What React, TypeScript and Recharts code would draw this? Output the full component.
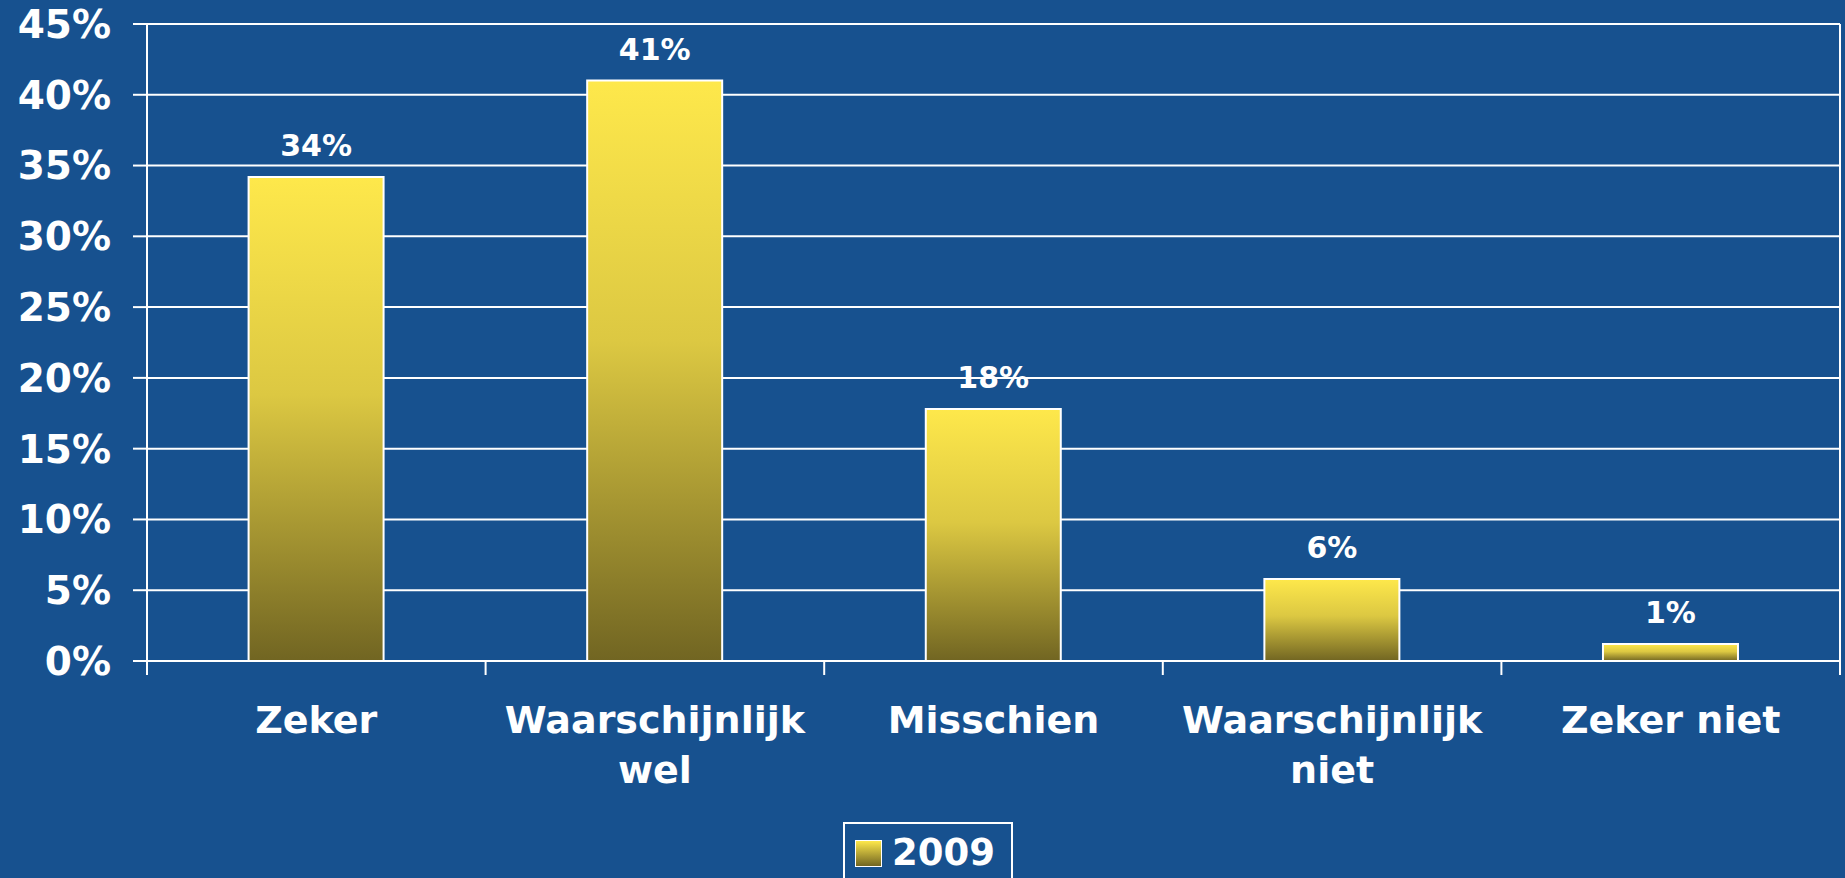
import React from 'react';
import {
  BarChart,
  Bar,
  XAxis,
  YAxis,
  CartesianGrid,
  Legend,
  LabelList,
} from 'recharts';

const categories = ['Zeker', 'Waarschijnlijk wel', 'Misschien', 'Waarschijnlijk niet', 'Zeker niet'];
const values2009 = [34.2, 41, 17.8, 5.8, 1.2];
const yTicks = [0, 5, 10, 15, 20, 25, 30, 35, 40, 45];
const seriesName = '2009';

const data = categories.map((name, i) => ({ name, value: values2009[i] }));

const FONT = '"DejaVu Sans", Verdana, sans-serif';
const BG = '#17518f';
const X_TICK_MARGIN = 45;

// wrap long category names onto two lines, like the original
function wrapLabel(label: string, maxChars = 14): string[] {
  const words = label.split(' ');
  const lines: string[] = [];
  let cur = '';
  words.forEach((w) => {
    const next = cur ? `${cur} ${w}` : w;
    if (next.length > maxChars && cur) {
      lines.push(cur);
      cur = w;
    } else {
      cur = next;
    }
  });
  if (cur) lines.push(cur);
  return lines;
}

// category label plus the small tick marks at the category boundaries
function CategoryTick({ x, y, payload, width, visibleTicksCount, index }: any) {
  const lines = wrapLabel(String(payload.value));
  const half = width / visibleTicksCount / 2;
  const axisY = y - X_TICK_MARGIN;
  const isLast = index === visibleTicksCount - 1;
  return (
    <g>
      <line x1={x - half} x2={x - half} y1={axisY} y2={axisY + 14} stroke="#fff" strokeWidth={2} />
      {isLast && (
        <line x1={x + half} x2={x + half} y1={axisY} y2={axisY + 14} stroke="#fff" strokeWidth={2} />
      )}
      <text x={x} y={y} textAnchor="middle" fill="#fff" fontSize={38} fontWeight="bold" fontFamily={FONT}>
        {lines.map((line, i) => (
          <tspan key={i} x={x} dy={i === 0 ? 27 : 50}>
            {line}
          </tspan>
        ))}
      </text>
    </g>
  );
}

function LegendBox() {
  return (
    <div
      style={{
        border: '2px solid #fff',
        display: 'flex',
        alignItems: 'flex-start',
        padding: '14px 16px 20px 10px',
        height: 70,
        boxSizing: 'border-box',
        fontFamily: FONT,
      }}
    >
      <span
        style={{
          width: 27,
          height: 27,
          boxSizing: 'border-box',
          border: '1px solid #fff',
          background: 'linear-gradient(#fee84b, #716522)',
          marginRight: 10,
          marginTop: 2,
        }}
      />
      <span style={{ color: '#fff', fontSize: 37, fontWeight: 'bold', lineHeight: '30px' }}>
        {seriesName}
      </span>
    </div>
  );
}

export default function App() {
  return (
    <div style={{ width: 1845, height: 878, overflow: 'hidden', background: BG }}>
      <style>{'body{margin:0;}'}</style>
      <BarChart
        width={1845}
        height={878}
        data={data}
        margin={{ top: 24, right: 0, bottom: 0, left: 0 }}
        barCategoryGap="30%"
        style={{ background: BG }}
      >
        <defs>
          <linearGradient id="barGrad" x1="0" y1="0" x2="0" y2="1">
            <stop offset="0%" stopColor="#fee84b" />
            <stop offset="45%" stopColor="#dcc842" />
            <stop offset="100%" stopColor="#716522" />
          </linearGradient>
        </defs>
        <CartesianGrid horizontal vertical={false} stroke="#fff" strokeWidth={2} />
        <XAxis
          dataKey="name"
          height={217}
          interval={0}
          tickSize={0}
          tickMargin={X_TICK_MARGIN}
          tickLine={false}
          axisLine={{ stroke: '#fff', strokeWidth: 2 }}
          tick={<CategoryTick />}
        />
        <YAxis
          domain={[0, 45]}
          ticks={yTicks}
          width={147}
          tickSize={14}
          tickMargin={22}
          tickFormatter={(v: number) => `${v}%`}
          axisLine={{ stroke: '#fff', strokeWidth: 2 }}
          tickLine={{ stroke: '#fff', strokeWidth: 2 }}
          tick={{ fill: '#fff', fontSize: 39, fontWeight: 'bold', fontFamily: FONT }}
        />
        <YAxis
          yAxisId="right"
          orientation="right"
          domain={[0, 45]}
          width={5}
          tick={false}
          tickLine={false}
          axisLine={{ stroke: '#fff', strokeWidth: 2 }}
        />
        <Legend
          verticalAlign="middle"
          align="center"
          layout="horizontal"
          wrapperStyle={{ left: 843, top: 822, width: 'auto' }}
          content={<LegendBox />}
        />
        <Bar
          dataKey="value"
          name={seriesName}
          fill="url(#barGrad)"
          stroke="#fff"
          strokeWidth={2}
          isAnimationActive={false}
        >
          <LabelList
            dataKey="value"
            position="top"
            offset={21}
            formatter={(v: number) => `${Math.round(v)}%`}
            fill="#fff"
            fontSize={30}
            fontWeight="bold"
            fontFamily={FONT}
          />
        </Bar>
      </BarChart>
    </div>
  );
}
